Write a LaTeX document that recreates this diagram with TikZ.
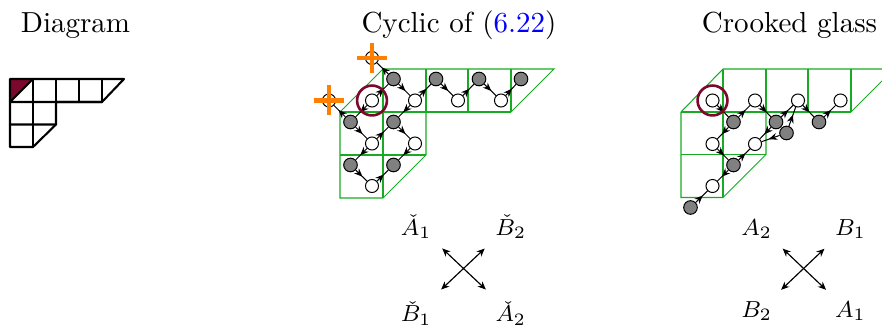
\documentclass[tikz,border=0pt]{standalone}
\usetikzlibrary{arrows.meta,decorations.markings}
\definecolor{gridgreen}{RGB}{25,170,35}
\definecolor{darkred}{RGB}{125,8,45}
\definecolor{crossorange}{RGB}{255,128,0}
\definecolor{linkblue}{RGB}{0,0,255}
\tikzset{
  whitedot/.style={circle,draw=black,fill=white,line width=.35pt,inner sep=0pt,minimum size=4.5pt},
  graydot/.style={circle,draw=black,fill=black!50,line width=.35pt,inner sep=0pt,minimum size=4.7pt},
  flow/.style={draw=black,line width=.35pt,postaction={decorate},decoration={markings,mark=at position .6 with {\arrow{Stealth[length=2.9pt,width=2.4pt]}}}},
  gridline/.style={draw=gridgreen,line width=.36pt},
  cellline/.style={draw=black,line width=.72pt,line join=round,line cap=round},
  ring/.style={circle,draw=darkred,line width=.9pt,inner sep=0pt,minimum size=10.3pt},
  orangebar/.style={draw=crossorange,line width=1.5pt},
  titletext/.style={anchor=base,inner sep=0pt},
  cornerlabel/.style={font=\footnotesize,inner sep=0pt,anchor=center,text depth=1.5pt},
  toprow/.style={cornerlabel,text height=9.1pt},
  lowcheck/.style={cornerlabel,text height=7.7pt},
  lowplain/.style={cornerlabel,text height=4.3pt},
  crossarrow/.style={draw=black,line width=.4pt,{Stealth[length=2.8pt,width=2.4pt]}-{Stealth[length=2.8pt,width=2.4pt]},shorten <=4.8pt},
}
\begin{document}
\begin{tikzpicture}[x=0.3448pt,y=-0.3448pt]
\useasboundingbox (0,0) rectangle (882,325);
% titles
\node[titletext] (t1) at (75.5,33) {Diagram};
\node[titletext] (t2) at (459,33) {Cyclic of (\textcolor{linkblue}{6.22})};
\node[titletext] (t3) at (789.5,33) {Crooked glass};
% left diagram
\fill[darkred] (10,79) -- (33,79) -- (10,102) -- cycle;
\draw[cellline] (10,79) -- (124,79) -- (102,102) -- (56,102) -- (56,124.5) -- (33,147) -- (10,147) -- cycle;
\draw[cellline] (10,102) -- (33,79) (10,102) -- (102,102) (10,124.5) -- (56,124.5);
\draw[cellline] (33,79) -- (33,147) (56,79) -- (56,102) (79,79) -- (79,102) (102,79) -- (102,102);
% middle grid
\draw[gridline] (340,112) -- (383,69) -- (554,69) -- (511,112) -- (426,112) -- (426,155) -- (383,198) -- (340,198) -- cycle;
\draw[gridline] (340,112) -- (511,112) (340,155) -- (426,155) (383,69) -- (383,198) (426,69) -- (426,112) (468,69) -- (468,112) (511,69) -- (511,112);
% middle nodes
\node[whitedot] (a1) at (372,100.5) {};
\node[whitedot] (a2) at (415,100.5) {};
\node[whitedot] (a3) at (458,100.5) {};
\node[whitedot] (a4) at (501,100.5) {};
\node[whitedot] (a5) at (372,143.5) {};
\node[whitedot] (a6) at (415,143.5) {};
\node[whitedot] (a7) at (372,186) {};
\node[graydot] (b1) at (393.5,79) {};
\node[graydot] (b2) at (436,79) {};
\node[graydot] (b3) at (479,79) {};
\node[graydot] (b4) at (521,79) {};
\node[graydot] (b5) at (350.5,122) {};
\node[graydot] (b6) at (393.5,122) {};
\node[graydot] (b7) at (350.5,165) {};
\node[graydot] (b8) at (393.5,165) {};
\node[whitedot] (c1) at (372,58) {};
\node[whitedot] (c2) at (329,100.5) {};
\foreach \p/\q in {b1/c1,b5/c2,a1/b1,a1/b5,b1/a2,a2/b2,b2/a3,a3/b3,b3/a4,a4/b4,a2/b6,b5/a5,a5/b6,b6/a6,a5/b7,a6/b8,b7/a7,a7/b8}
  \path[flow] (\p) -- (\q);
\node[ring] (r1) at (372,100.5) {};
\draw[orangebar] (c1.center) ++(-15,0) -- ++(30,0) (c1.center) ++(0,-15) -- ++(0,30);
\draw[orangebar] (c2.center) ++(-15,0) -- ++(30,0) (c2.center) ++(0,-15) -- ++(0,30);
% right grid
\draw[gridline] (882,69) -- (723,69) -- (681,112) -- (681,197.5) -- (723,197.5) -- (766,154.5) -- (766,112) -- (851,112) -- (882,81);
\draw[gridline] (681,112) -- (851,112) (681,154.5) -- (766,154.5) (723,69) -- (723,197.5) (766,69) -- (766,112) (808,69) -- (808,112) (851,69) -- (851,112);
% right nodes
\node[whitedot] (d1) at (712.5,100.5) {};
\node[whitedot] (d2) at (755,100.5) {};
\node[whitedot] (d3) at (798,100.5) {};
\node[whitedot] (d4) at (840.5,100.5) {};
\node[whitedot] (d5) at (712.5,144) {};
\node[whitedot] (d6) at (755,144) {};
\node[whitedot] (d7) at (712.5,186) {};
\node[graydot] (e1) at (733.5,122) {};
\node[graydot] (e2) at (776,122) {};
\node[graydot] (e3) at (786.5,133) {};
\node[graydot] (e4) at (819,122) {};
\node[graydot] (e5) at (733.5,165) {};
\node[graydot] (e6) at (690.5,207.5) {};
\foreach \p/\q in {d1/e1,e1/d2,e1/d5,d2/e2,e2/d3,e2/d6,e3/d3,e3/d6,d3/e4,e4/d4,d5/e5,e5/d6,e5/d7,e6/d7}
  \path[flow] (\p) -- (\q);
\node[ring] (r2) at (712.5,100.5) {};
% middle square
\node[toprow] (f1) at (416.2,224) {$\check{A}_1$};
\node[toprow] (f2) at (510.8,224) {$\check{B}_2$};
\node[lowcheck] (f3) at (416.2,313) {$\check{B}_1$};
\node[lowcheck] (f4) at (510.8,313) {$\check{A}_2$};
\path[crossarrow,shorten >=4.8pt] (f1) -- (f4);
\path[crossarrow,shorten >=4.8pt] (f2) -- (f3);
% right square
\node[toprow] (g1) at (756.7,224) {$A_2$};
\node[toprow] (g2) at (850.5,224) {$B_1$};
\node[lowplain] (g3) at (756.7,313) {$B_2$};
\node[lowplain] (g4) at (850.5,313) {$A_1$};
\path[crossarrow,shorten >=7.1pt] (g1) -- (g4);
\path[crossarrow,shorten >=7.1pt] (g2) -- (g3);
\end{tikzpicture}
\end{document}
